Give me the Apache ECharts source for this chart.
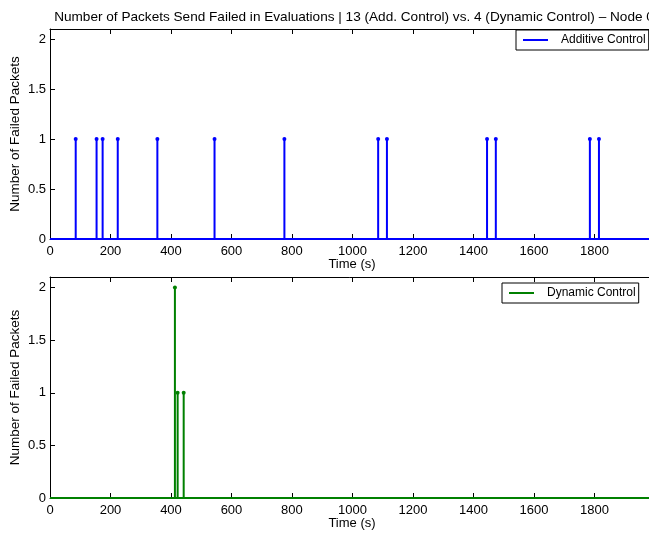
<!DOCTYPE html>
<html>
<head>
<meta charset="utf-8">
<script src="https://cdn.jsdelivr.net/npm/echarts@6/dist/echarts.min.js"></script>
<style>
  html, body { margin: 0; padding: 0; background: #fff; }
  #chart { width: 649px; height: 533px; }
</style>
</head>
<body>
<div id="chart"></div>
<script>
// Failure events per run: time of the evaluation (s) and number of failed sends
const additiveTimes  = [85, 154, 174, 224, 355, 544, 775, 1085, 1114, 1445, 1474, 1785, 1815];
const additiveCounts = [1, 1, 1, 1, 1, 1, 1, 1, 1, 1, 1, 1, 1];
const dynamicTimes   = [413, 422, 442];
const dynamicCounts  = [2, 1, 1];

const timeStart = 0;
const timeEnd = 1997;
const xTicks = [0, 200, 400, 600, 800, 1000, 1200, 1400, 1600, 1800];
const yTicks = [0, 0.5, 1, 1.5, 2];

const titleText = 'Number of Packets Send Failed in Evaluations | 13 (Add. Control) vs. 4 (Dynamic Control) \u2013 Node 0';
const FONT = 'Liberation Sans, Arial, Helvetica, sans-serif';

// Turn event lists into a zero baseline with a vertical stem at each event
function stemSeries(times, counts) {
  const pts = [[timeStart, 0]];
  times.forEach((t, i) => {
    pts.push([t, 0]);
    pts.push({ value: [t, counts[i]], symbol: 'circle', symbolSize: 4 });
    pts.push([t, 0]);
  });
  pts.push([timeEnd, 0]);
  return pts;
}

const chart = echarts.init(document.getElementById('chart'), null, { renderer: 'canvas' });

// The plot boxes run slightly past the right edge of the page
const grids = [
  { left: 50, top: 29, width: 604, height: 210, containLabel: false, outerBoundsMode: 'none' },
  { left: 50, top: 277, width: 604, height: 221, containLabel: false, outerBoundsMode: 'none' }
];

const axisLine = { show: true, lineStyle: { color: '#000', width: 1 } };
const axisTick = { show: true, inside: true, length: 5, lineStyle: { color: '#000', width: 1 } };
const labelStyle = { color: '#000', fontFamily: FONT, fontSize: 13 };

function bottomX(gi) {
  return {
    type: 'value', gridIndex: gi, position: 'bottom', min: timeStart, max: timeEnd, interval: 200,
    axisLine, axisTick, splitLine: { show: false },
    axisLabel: Object.assign({ margin: 6, showMaxLabel: false, formatter: v => xTicks.includes(v) ? String(v) : '' }, labelStyle),
    name: 'Time (s)', nameLocation: 'middle', nameGap: 19, nameMoveOverlap: false,
    nameTextStyle: { color: '#000', fontFamily: FONT, fontSize: 13 }
  };
}
function topX(gi) {
  return {
    type: 'value', gridIndex: gi, position: 'top', min: timeStart, max: timeEnd, interval: 200,
    axisLine, axisTick, axisLabel: { show: false }, splitLine: { show: false }
  };
}
function leftY(gi) {
  return {
    type: 'value', gridIndex: gi, min: 0, max: 2.1, interval: 0.5,
    axisLine, axisTick, splitLine: { show: false },
    axisLabel: Object.assign({ margin: 4, showMaxLabel: false, formatter: v => yTicks.includes(v) ? String(v) : '' }, labelStyle),
    name: 'Number of Failed Packets', nameLocation: 'middle', nameRotate: 90, nameGap: 28, nameMoveOverlap: false,
    nameTextStyle: { color: '#000', fontFamily: FONT, fontSize: 13.5 }
  };
}

function legendFor(name, left, top) {
  return {
    data: [name], left, top, orient: 'horizontal',
    icon: 'rect', itemWidth: 25, itemHeight: 2,
    padding: [4, 3, 4, 7],
    backgroundColor: '#fff', borderColor: '#000', borderWidth: 1, borderRadius: 0,
    textStyle: { color: '#000', fontFamily: FONT, fontSize: 12, padding: [0, 0, 0, 8] },
    selectedMode: false
  };
}

chart.setOption({
  animation: false,
  backgroundColor: '#fff',
  title: {
    text: titleText, left: 349, top: 5, textAlign: 'center',
    textStyle: { color: '#000', fontFamily: FONT, fontSize: 13.6, fontWeight: 'normal' }
  },
  legend: [
    legendFor('Additive Control', 516, 30),
    legendFor('Dynamic Control', 502, 283)
  ],
  grid: grids,
  xAxis: [bottomX(0), topX(0), bottomX(1), topX(1)],
  yAxis: [leftY(0), leftY(1)],
  series: [
    {
      name: 'Additive Control', type: 'line', xAxisIndex: 0, yAxisIndex: 0,
      data: stemSeries(additiveTimes, additiveCounts),
      symbol: 'none', showSymbol: true, clip: false,
      lineStyle: { color: '#0000ff', width: 2 }, itemStyle: { color: '#0000ff' }
    },
    {
      name: 'Dynamic Control', type: 'line', xAxisIndex: 2, yAxisIndex: 1,
      data: stemSeries(dynamicTimes, dynamicCounts),
      symbol: 'none', showSymbol: true, clip: false,
      lineStyle: { color: '#008000', width: 2 }, itemStyle: { color: '#008000' }
    }
  ]
});
</script>
</body>
</html>
